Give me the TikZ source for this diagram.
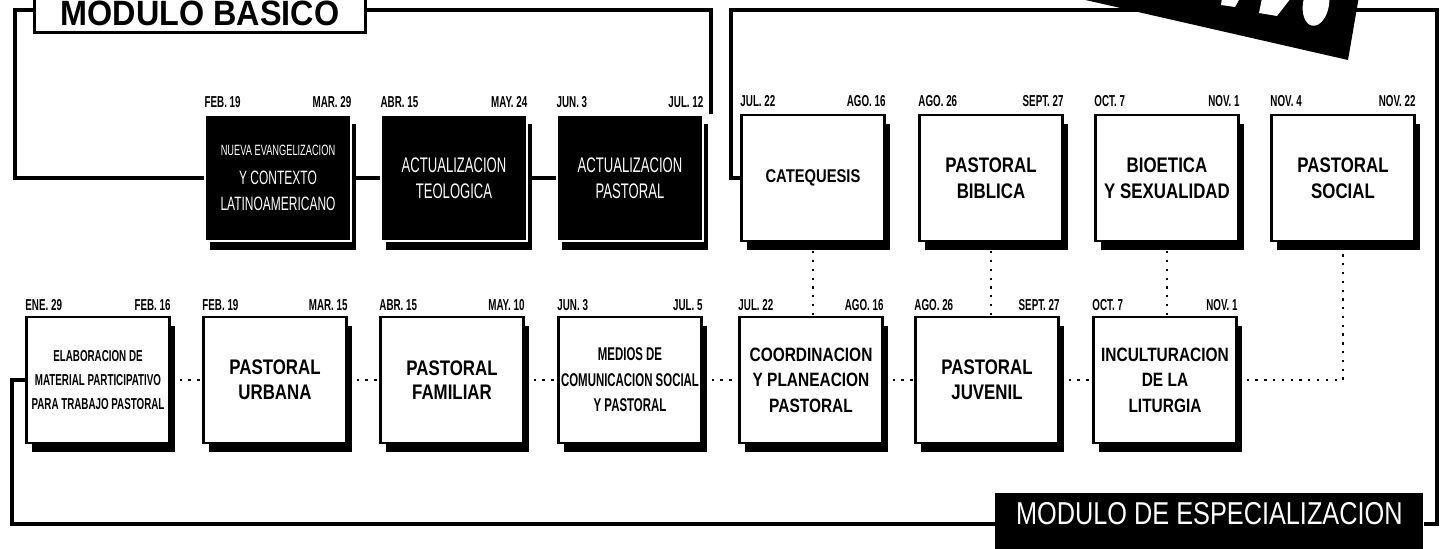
\documentclass[tikz,border=0pt]{standalone}
\usepackage{fontspec}
\newfontfamily\widefont[FakeStretch=0.8]{Liberation Sans}
\newfontfamily\slimfont[FakeStretch=0.62]{Liberation Sans}
\newfontfamily\headfont[FakeStretch=0.92]{Liberation Sans}
\usetikzlibrary{shadows}
\begin{document}
\begin{tikzpicture}[x=0.02cm,y=-0.02cm,
  modline/.style={line width=2.2pt},
  dotline/.style={line width=1.3pt,dash pattern=on 1.3pt off 3.7pt},
  course/.style={draw,line width=1.6pt,fill=white,minimum width=2.86cm,minimum height=2.52cm,
    inner sep=1pt,align=center,font=\widefont\bfseries\fontsize{12}{15}\selectfont,
    drop shadow={shadow xshift=3pt,shadow yshift=-5pt,opacity=1,fill=black}},
  basecourse/.style={course,fill=black,draw=white,line width=0.8pt,text=white,minimum width=2.92cm,
    font=\slimfont\fontsize{12}{14.5}\selectfont},
  when/.style={inner sep=0pt,font=\slimfont\bfseries\fontsize{9}{10}\selectfont}]
\useasboundingbox (0,0) rectangle (1442,548);

% modulo basico
\node[draw,fill=white,line width=1.6pt,anchor=south,minimum width=6.62cm,inner ysep=4pt,
  font=\headfont\bfseries\fontsize{20}{22}\selectfont] (mb) at (200,34) {MODULO BASICO};
\node[basecourse] (b1) at (278,178) {{\fontsize{8.5}{10}\selectfont NUEVA EVANGELIZACION}\\[2pt]
  {\fontsize{11}{15}\selectfont Y CONTEXTO}\\ {\fontsize{11}{15}\selectfont LATINOAMERICANO}};
\node[basecourse] (b2) at (454,178) {ACTUALIZACION\\ TEOLOGICA};
\node[basecourse] (b3) at (630,178) {ACTUALIZACION\\ PASTORAL};

% modulo de especializacion, arriba
\node[course,font=\widefont\bfseries\fontsize{10.5}{13}\selectfont] (s1) at (813,178) {CATEQUESIS};
\node[course] (s2) at (991,178) {PASTORAL\\ BIBLICA};
\node[course] (s3) at (1167,178) {BIOETICA\\ Y SEXUALIDAD};
\node[course] (s4) at (1343,178) {PASTORAL\\ SOCIAL};

% abajo
\node[course,font=\slimfont\bfseries\fontsize{9}{13.5}\selectfont] (e1) at (98,380)
  {ELABORACION DE\\ MATERIAL PARTICIPATIVO\\ PARA TRABAJO PASTORAL};
\node[course,font=\widefont\bfseries\fontsize{12}{14}\selectfont] (e2) at (275,380) {PASTORAL\\ URBANA};
\node[course,font=\widefont\bfseries\fontsize{12}{14}\selectfont] (e3) at (452,380) {PASTORAL\\ FAMILIAR};
\node[course,font=\slimfont\bfseries\fontsize{10.5}{14.5}\selectfont] (e4) at (630,380)
  {MEDIOS DE\\ COMUNICACION SOCIAL\\ Y PASTORAL};
\node[course,font=\widefont\bfseries\fontsize{11}{14.5}\selectfont] (e5) at (811,380)
  {COORDINACION\\ Y PLANEACION\\ PASTORAL};
\node[course,font=\widefont\bfseries\fontsize{12}{14}\selectfont] (e6) at (987,380) {PASTORAL\\ JUVENIL};
\node[course,font=\widefont\bfseries\fontsize{11}{14.5}\selectfont] (e7) at (1165,380)
  {INCULTURACION\\ DE LA\\ LITURGIA};
\node[anchor=north west,fill=black,text=white,minimum width=8.56cm,inner ysep=5pt,text depth=20pt,
  font=\widefont\fontsize{18}{20}\selectfont] (me) at (995,493) {MODULO DE ESPECIALIZACION};

% fechas
\node[when,anchor=base west] (b1a) at ([yshift=4pt]b1.north west) {FEB. 19};
\node[when,anchor=base east] (b1b) at ([yshift=4pt]b1.north east) {MAR. 29};
\node[when,anchor=base west] (b2a) at ([yshift=4pt]b2.north west) {ABR. 15};
\node[when,anchor=base east] (b2b) at ([yshift=4pt]b2.north east) {MAY. 24};
\node[when,anchor=base west] (b3a) at ([yshift=4pt]b3.north west) {JUN. 3};
\node[when,anchor=base east] (b3b) at ([yshift=4pt]b3.north east) {JUL. 12};
\node[when,anchor=base west] (s1a) at ([yshift=4pt]s1.north west) {JUL. 22};
\node[when,anchor=base east] (s1b) at ([yshift=4pt]s1.north east) {AGO. 16};
\node[when,anchor=base west] (s2a) at ([yshift=4pt]s2.north west) {AGO. 26};
\node[when,anchor=base east] (s2b) at ([yshift=4pt]s2.north east) {SEPT. 27};
\node[when,anchor=base west] (s3a) at ([yshift=4pt]s3.north west) {OCT. 7};
\node[when,anchor=base east] (s3b) at ([yshift=4pt]s3.north east) {NOV. 1};
\node[when,anchor=base west] (s4a) at ([yshift=4pt]s4.north west) {NOV. 4};
\node[when,anchor=base east] (s4b) at ([yshift=4pt]s4.north east) {NOV. 22};
\node[when,anchor=base west] (e1a) at ([yshift=3pt]e1.north west) {ENE. 29};
\node[when,anchor=base east] (e1b) at ([yshift=3pt]e1.north east) {FEB. 16};
\node[when,anchor=base west] (e2a) at ([yshift=3pt]e2.north west) {FEB. 19};
\node[when,anchor=base east] (e2b) at ([yshift=3pt]e2.north east) {MAR. 15};
\node[when,anchor=base west] (e3a) at ([yshift=3pt]e3.north west) {ABR. 15};
\node[when,anchor=base east] (e3b) at ([yshift=3pt]e3.north east) {MAY. 10};
\node[when,anchor=base west] (e4a) at ([yshift=3pt]e4.north west) {JUN. 3};
\node[when,anchor=base east] (e4b) at ([yshift=3pt]e4.north east) {JUL. 5};
\node[when,anchor=base west] (e5a) at ([yshift=3pt]e5.north west) {JUL. 22};
\node[when,anchor=base east] (e5b) at ([yshift=3pt]e5.north east) {AGO. 16};
\node[when,anchor=base west] (e6a) at ([yshift=3pt]e6.north west) {AGO. 26};
\node[when,anchor=base east] (e6b) at ([yshift=3pt]e6.north east) {SEPT. 27};
\node[when,anchor=base west] (e7a) at ([yshift=3pt]e7.north west) {OCT. 7};
\node[when,anchor=base east] (e7b) at ([yshift=3pt]e7.north east) {NOV. 1};

% marcos
\coordinate (bTL) at (15,10);
\coordinate (bTR) at (711,10);
\coordinate (sTL) at (731,10);
\coordinate (sTR) at (1437,10);
\coordinate (sBR) at (1437,524);
\coordinate (sBL) at (12,524);
\draw[modline] (mb.west |- bTL) -- (bTL) -- (bTL |- b1.west) -- (b1.west);
\draw[modline] (b1.east) -- (b2.west);
\draw[modline] (b2.east) -- (b3.west);
\draw[modline] (mb.east |- bTR) -- (bTR) -- (bTR |- b3.north);
\draw[modline] (s1.west) -- (sTL |- s1.west) -- (sTL) -- (sTR) -- (sBR) -- (me.east |- sBR);
\draw[modline] (me.west |- sBR) -- (sBL) -- (sBL |- e1.west) -- (e1.west);

% punteado
\draw[dotline] (e1.east) -- (e2.west);
\draw[dotline] (e2.east) -- (e3.west);
\draw[dotline] (e3.east) -- (e4.west);
\draw[dotline] (e4.east) -- (e5.west);
\draw[dotline] (e5.east) -- (e6.west);
\draw[dotline] (e6.east) -- (e7.west);
\draw[dotline] (s1.south) -- (s1.south |- e5.north);
\draw[dotline] (s2.south) -- (s2.south |- e6.north);
\draw[dotline] (s3.south) -- (s3.south |- e7.north);
\draw[dotline] (e7.east) -- (s4.south |- e7.east) -- (s4.south);

% sello
\fill (1068,-4) -- (1348,60) -- (1359,-4) -- cycle;
\fill[white] (1222,-2) -- (1240,-2) -- (1235,7) -- (1221,5) -- cycle;
\fill[white] (1262,-2) -- (1291,-2) -- (1277,16) -- (1259,13) -- cycle;
\fill[white,rotate around={-10:(1316,4)}] (1316,4) ellipse (0.26cm and 0.44cm);
\end{tikzpicture}
\end{document}
